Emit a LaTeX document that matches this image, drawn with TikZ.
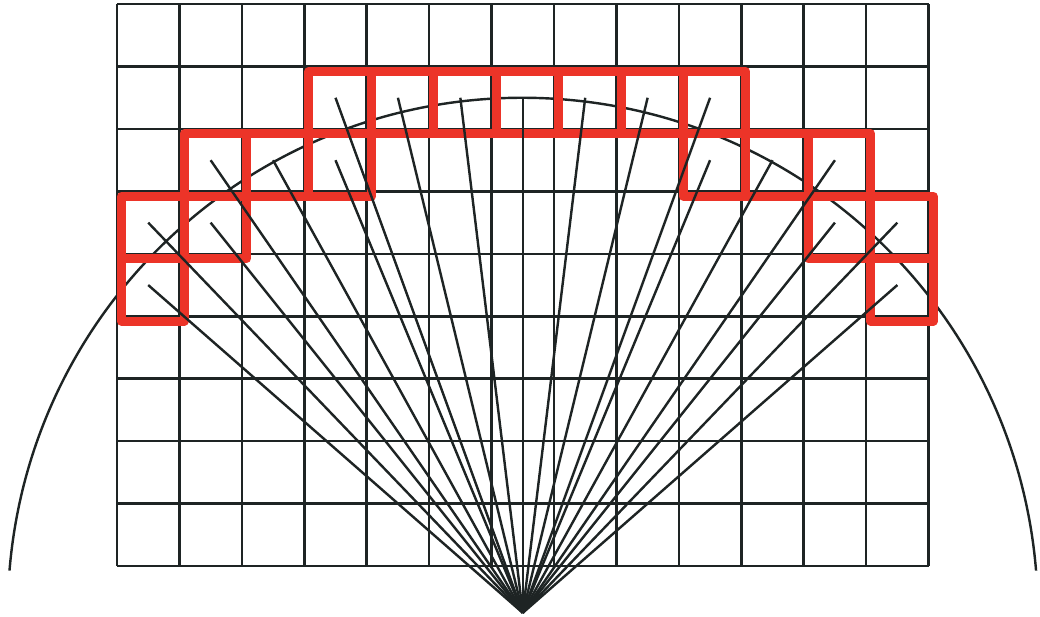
\documentclass[tikz,border=0pt]{standalone}
\usepackage{tikz}

\definecolor{gitterfarbe}{RGB}{30,36,36}
\definecolor{trefferrot}{RGB}{236,52,40}

\tikzset{
    gitter/.style={draw=gitterfarbe, line width=1.2pt},
    bogen/.style={draw=gitterfarbe, line width=1.1pt},
    strahl/.style={draw=gitterfarbe, line width=1.1pt},
    feld/.style={draw=trefferrot, line width=4.1pt, line join=round}
}

\newcommand{\feld}[2]{
    \draw[feld] ({#1+0.075},{#2-0.08}) rectangle ++(1,1);
}
\newcommand{\strahl}[2]{
    \coordinate (z#1-#2) at ({#1+0.5},{#2+0.5});
    \draw[strahl] (apex) -- (z#1-#2);
}

\begin{document}
\begin{tikzpicture}

  \useasboundingbox (-1.874,-0.817) rectangle (14.785,9.066);

  \draw[gitter] (0,0) grid (13,9);

  \coordinate (apex) at (6.5,-0.75);
  \draw[bogen] (apex) ++(175.3:8.25) arc[start angle=175.3, end angle=4.7, radius=8.25];

  % (column, row)
  \feld{0}{4}
  \feld{0}{5}
  \feld{1}{5}
  \feld{1}{6}
  \feld{2}{6}
  \feld{3}{6}
  \feld{3}{7}
  \feld{4}{7}
  \feld{5}{7}
  \feld{6}{7}
  \feld{7}{7}
  \feld{8}{7}
  \feld{9}{7}
  \feld{9}{6}
  \feld{10}{6}
  \feld{11}{6}
  \feld{11}{5}
  \feld{12}{5}
  \feld{12}{4}

  \strahl{0}{4}
  \strahl{0}{5}
  \strahl{1}{5}
  \strahl{1}{6}
  \strahl{2}{6}
  \strahl{3}{6}
  \strahl{3}{7}
  \strahl{4}{7}
  \strahl{5}{7}
  \strahl{6}{7}
  \strahl{7}{7}
  \strahl{8}{7}
  \strahl{9}{7}
  \strahl{9}{6}
  \strahl{10}{6}
  \strahl{11}{6}
  \strahl{11}{5}
  \strahl{12}{5}
  \strahl{12}{4}

\end{tikzpicture}
\end{document}
